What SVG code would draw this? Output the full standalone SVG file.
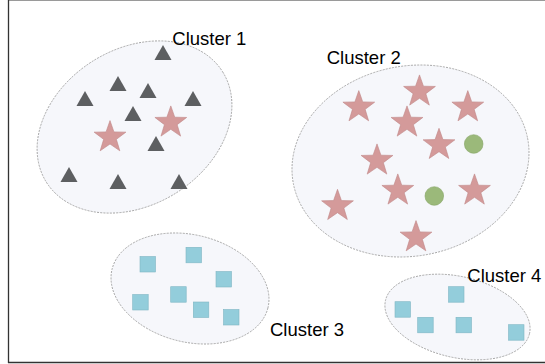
<svg xmlns="http://www.w3.org/2000/svg" xmlns:xlink="http://www.w3.org/1999/xlink" width="545" height="364" viewBox="0 0 545 364">
<style>
.hull{fill:#f6f7fb;stroke:#9a9a9a;stroke-width:0.8;stroke-dasharray:2 1.2}
.tri{fill:#5d5f61}
.star{fill:#d49a9a;stroke:#bf8787;stroke-width:0.6}
.dot{fill:#9bb97a;stroke:#86a566;stroke-width:0.6}
.sq{fill:#93cddb;stroke:#7fb6c4;stroke-width:0.6}
.lbl{font-family:"Liberation Sans",Arial,sans-serif;font-size:18.5px;fill:#000}
</style>
<defs>
<path id="t" d="M0,0 L8.5,15 L-8.5,15 Z"/>
<path id="s" d="M0,-16.7 L3.94,-5.42 L15.88,-5.16 L6.37,2.07 L9.82,13.51 L0,6.7 L-9.82,13.51 L-6.37,2.07 L-15.88,-5.16 L-3.94,-5.42 Z"/>
<rect id="q" x="0" y="0" width="15.5" height="15.5"/>
</defs>
<rect x="0" y="0" width="545" height="364" fill="#fff"/>
<g id="frame" fill="none">
<line x1="8" y1="0.5" x2="545" y2="0.5" stroke="#9a9a9a" stroke-width="1"/>
<line x1="8.5" y1="0" x2="8.5" y2="363" stroke="#333" stroke-width="1.3"/>
<line x1="8" y1="362.5" x2="545" y2="362.5" stroke="#333" stroke-width="1.3"/>
</g>
<g id="connectors"/>
<g id="cluster1">
<ellipse class="hull" cx="134.5" cy="127" rx="104" ry="78" transform="rotate(-32 134.5 127)"/>
<use href="#t" class="tri" x="163" y="45"/>
<use href="#t" class="tri" x="118" y="76"/>
<use href="#t" class="tri" x="85" y="91"/>
<use href="#t" class="tri" x="148" y="83"/>
<use href="#t" class="tri" x="193" y="91"/>
<use href="#t" class="tri" x="133" y="106"/>
<use href="#t" class="tri" x="156" y="136"/>
<use href="#t" class="tri" x="69" y="167"/>
<use href="#t" class="tri" x="118" y="174"/>
<use href="#t" class="tri" x="179" y="174"/>
<use href="#s" class="star" x="110" y="137.3"/>
<use href="#s" class="star" x="170.8" y="122.6"/>
<text class="lbl" x="172.3" y="44.7">Cluster 1</text>
</g>
<g id="cluster2">
<ellipse class="hull" cx="410.5" cy="161" rx="119.3" ry="95" transform="rotate(-11 410.5 161)"/>
<use href="#s" class="star" x="358.8" y="107.3"/>
<use href="#s" class="star" x="419.5" y="91.6"/>
<use href="#s" class="star" x="467.8" y="107.3"/>
<use href="#s" class="star" x="407" y="122.6"/>
<use href="#s" class="star" x="439" y="145"/>
<use href="#s" class="star" x="377" y="160.6"/>
<use href="#s" class="star" x="397.8" y="190.6"/>
<use href="#s" class="star" x="474.5" y="190.6"/>
<use href="#s" class="star" x="337.5" y="206"/>
<use href="#s" class="star" x="416" y="237.3"/>
<circle class="dot" cx="473.7" cy="144" r="9.3"/>
<circle class="dot" cx="434.3" cy="196" r="9.3"/>
<text class="lbl" x="326.7" y="64">Cluster 2</text>
</g>
<g id="cluster3">
<ellipse class="hull" cx="190" cy="288.5" rx="80.3" ry="53.6" transform="rotate(14 190 288.5)"/>
<use href="#q" class="sq" x="140" y="256.5"/>
<use href="#q" class="sq" x="186" y="247.3"/>
<use href="#q" class="sq" x="216" y="271.5"/>
<use href="#q" class="sq" x="132.7" y="294.5"/>
<use href="#q" class="sq" x="170.7" y="286.7"/>
<use href="#q" class="sq" x="193.3" y="302"/>
<use href="#q" class="sq" x="223.5" y="309.5"/>
<text class="lbl" x="270" y="336.3">Cluster 3</text>
</g>
<g id="cluster4">
<ellipse class="hull" cx="457.5" cy="317" rx="73.9" ry="40.5" transform="rotate(13 457.5 317)"/>
<use href="#q" class="sq" x="448.5" y="286.7"/>
<use href="#q" class="sq" x="395" y="301.7"/>
<use href="#q" class="sq" x="417.7" y="317.3"/>
<use href="#q" class="sq" x="456" y="317.3"/>
<use href="#q" class="sq" x="508.5" y="324.7"/>
<text class="lbl" x="467.3" y="281.7">Cluster 4</text>
</g>
</svg>
